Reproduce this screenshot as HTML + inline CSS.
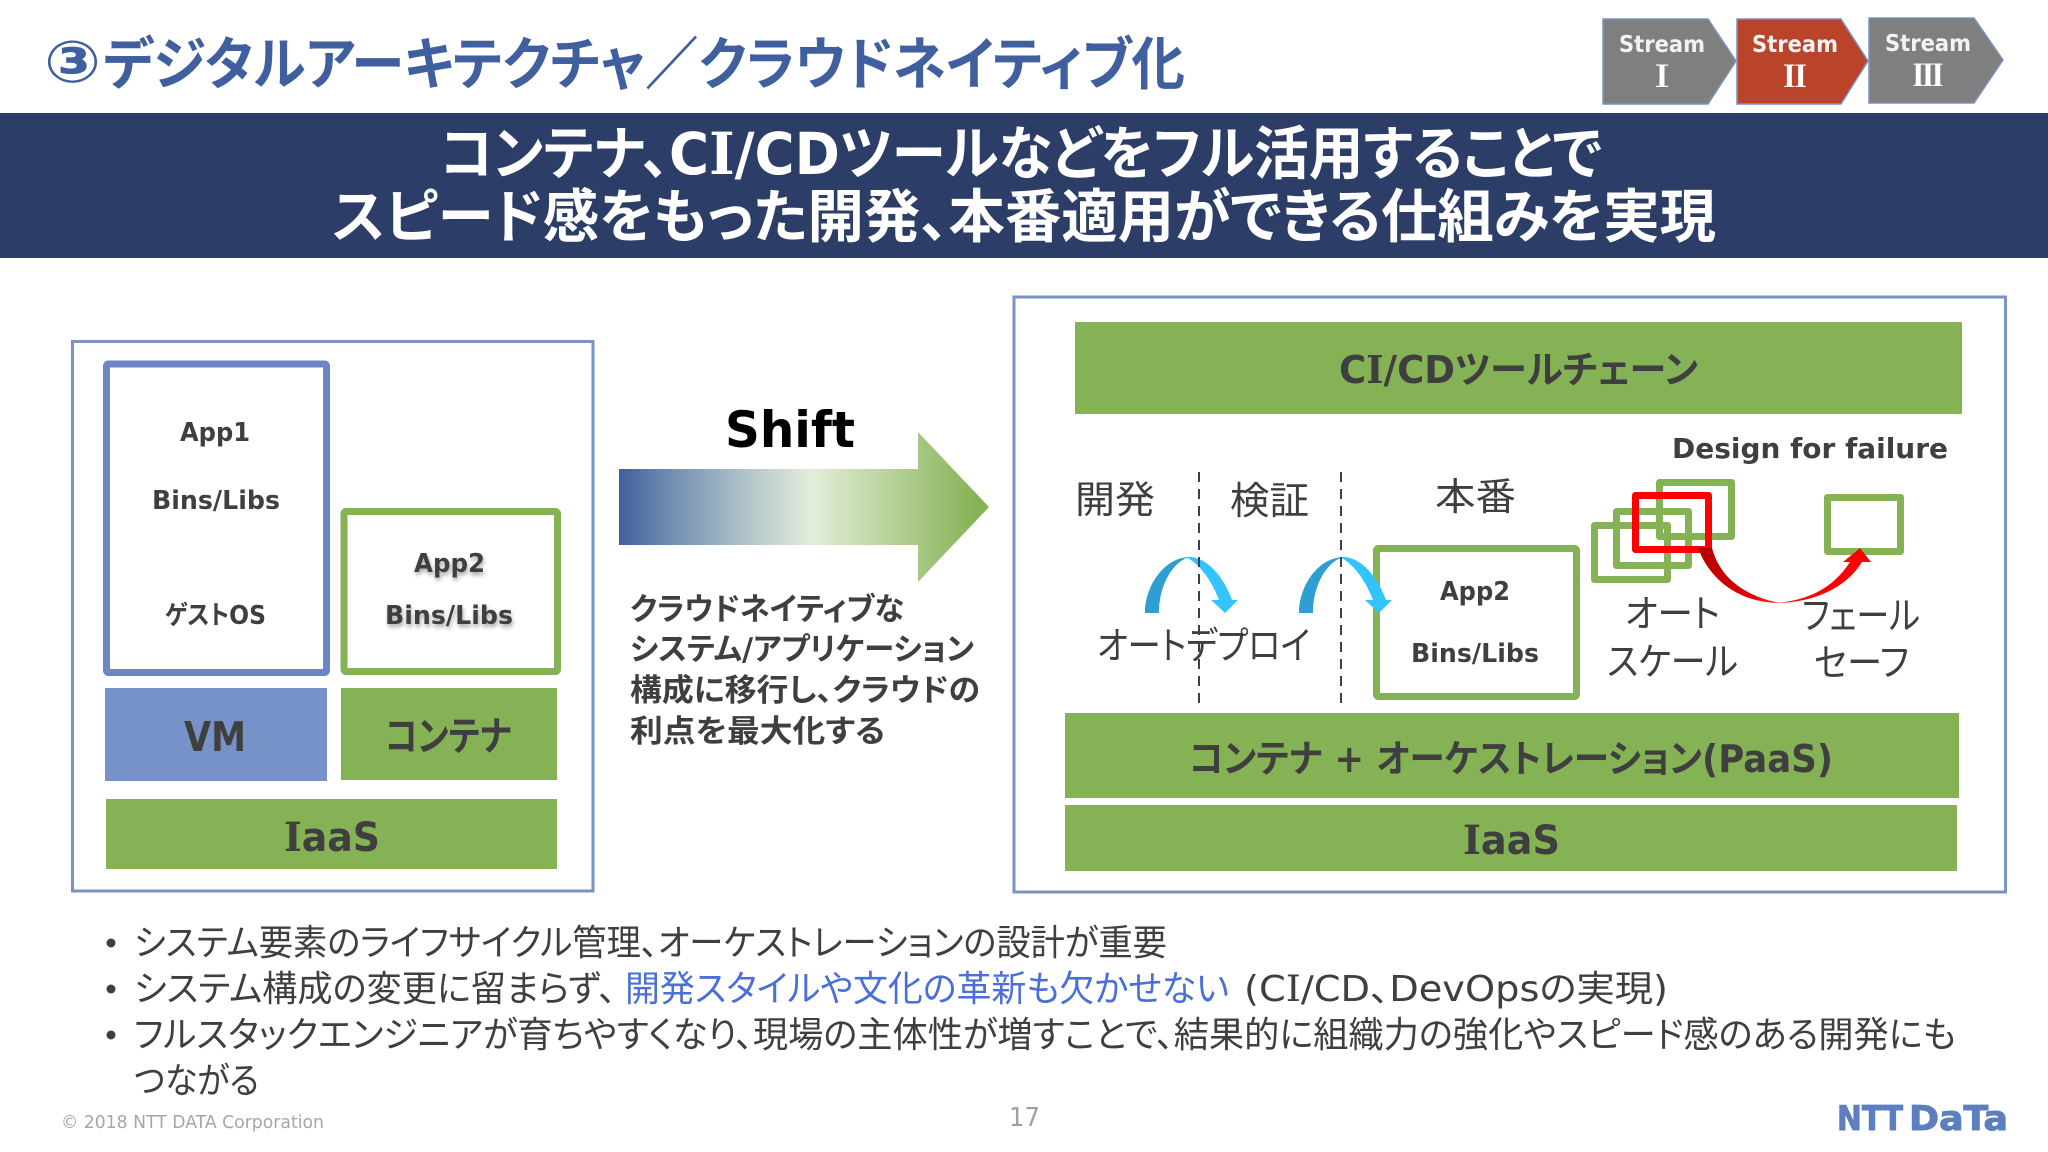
<!DOCTYPE html>
<html lang="ja"><head><meta charset="utf-8"><title>デジタルアーキテクチャ</title>
<style>
html,body{margin:0;padding:0;background:#fff}
svg{display:block}
text{font-family:"DejaVu Sans","Noto Sans CJK JP",sans-serif;fill:#3f3f3f;font-feature-settings:"palt"}
.cjk{font-family:"DejaVu Sans","Noto Sans CJK JP",sans-serif}
.b{font-weight:700}
.t{font-family:"Noto Sans CJK JP",sans-serif;font-weight:400;font-size:38px}
.body{font-family:"DejaVu Sans","Noto Sans CJK JP",sans-serif;font-weight:400;font-size:36px}
.i{font-family:"DejaVu Serif",serif}
.r{font-family:"Noto Serif CJK SC",serif;font-weight:900;fill:#fff}
.sh{filter:drop-shadow(1px 3px 2px rgba(0,0,0,.35))}
</style></head><body>
<svg xmlns="http://www.w3.org/2000/svg" width="2048" height="1152" viewBox="0 0 2048 1152">
<defs>
<linearGradient id="g" x1="0" x2="1" y1="0" y2="0" gradientUnits="objectBoundingBox">
<stop offset="0" stop-color="#3f5f9f"/><stop offset=".12" stop-color="#6a87ae"/><stop offset=".3" stop-color="#a4b9c4"/><stop offset=".52" stop-color="#e3eedb"/><stop offset=".75" stop-color="#b4cf95"/><stop offset=".97" stop-color="#85b255"/><stop offset="1" stop-color="#85b255"/>
</linearGradient>
<linearGradient id="r1" gradientUnits="userSpaceOnUse" x1="1698" y1="548" x2="1780" y2="603"><stop offset="0" stop-color="#b00000"/><stop offset=".7" stop-color="#e00000"/><stop offset="1" stop-color="#ff3030"/></linearGradient>
</defs>
<rect width="2048" height="1152" fill="#fff"/>

<!-- title -->
<text x="44" y="82" font-weight="700" font-size="58" style="fill:#3f5f9e" textLength="57" lengthAdjust="spacingAndGlyphs">③</text>
<text x="103" y="84" class="cjk b" font-size="57" style="fill:#3f5f9e" textLength="1082" lengthAdjust="spacingAndGlyphs">デジタルアーキテクチャ／クラウドネイティブ化</text>

<!-- stream chevrons -->
<g stroke="#7a93c4" stroke-width="1.5">
<polygon points="1603,19 1708,19 1736,61 1708,104 1603,104" fill="#7f7f7f"/>
<polygon points="1737,19 1841,19 1868,61 1841,104 1737,104" fill="#b9442a"/>
<polygon points="1869,18 1974,18 2003,60 1974,103 1869,103" fill="#7f7f7f"/>
</g>
<g class="b" text-anchor="middle" font-size="23" font-weight="700">
<text x="1662" y="52" style="fill:#f2f2f2" textLength="86" lengthAdjust="spacingAndGlyphs">Stream</text>
<text x="1795" y="52" style="fill:#f2f2f2" textLength="86" lengthAdjust="spacingAndGlyphs">Stream</text>
<text x="1928" y="51" style="fill:#f2f2f2" textLength="86" lengthAdjust="spacingAndGlyphs">Stream</text>
</g>
<g text-anchor="middle">
<text x="1662" y="87" font-size="30" class="r">Ⅰ</text>
<text x="1795" y="87" font-size="30" class="r">Ⅱ</text>
<text x="1928" y="86" font-size="30" class="r">Ⅲ</text>
</g>

<!-- header band -->
<rect x="0" y="113" width="2048" height="145" fill="#2c3e68"/>
<text x="440" y="174" class="cjk b" font-size="58" style="fill:#fff" textLength="1162" lengthAdjust="spacingAndGlyphs">コンテナ、C<tspan class="i">I</tspan>/CDツールなどをフル活用することで</text>
<text x="332" y="237" class="cjk b" font-size="58" style="fill:#fff" textLength="1384" lengthAdjust="spacingAndGlyphs">スピード感をもった開発、本番適用ができる仕組みを実現</text>

<!-- left frame -->
<rect x="72.5" y="341.5" width="520.5" height="549.5" fill="#fff" stroke="#7a93c4" stroke-width="3"/>
<rect x="106.5" y="364" width="220" height="308.5" rx="2" fill="#fff" stroke="#6a86c4" stroke-width="7"/>
<rect x="344" y="511.5" width="213.5" height="160" rx="2" fill="#fff" stroke="#85b255" stroke-width="7"/>
<rect x="105" y="688" width="222" height="93" fill="#7692c8"/>
<rect x="341" y="688" width="216" height="92" fill="#85b255"/>
<rect x="106" y="799" width="451" height="70" fill="#85b255"/>
<g class="b" font-weight="700" font-size="26">
<text x="180" y="441" textLength="70" lengthAdjust="spacingAndGlyphs">App1</text>
<text x="152" y="509" textLength="128" lengthAdjust="spacingAndGlyphs">Bins/Libs</text>
<text x="165" y="624" textLength="101" lengthAdjust="spacingAndGlyphs">ゲストOS</text>
<g class="sh">
<text x="414" y="572" textLength="71" lengthAdjust="spacingAndGlyphs">App2</text>
<text x="385" y="624" textLength="128" lengthAdjust="spacingAndGlyphs">Bins/Libs</text>
</g>
</g>
<text x="184" y="751" font-weight="700" font-size="41" textLength="62" lengthAdjust="spacingAndGlyphs">VM</text>
<text x="385" y="750" class="cjk b" font-size="40" textLength="126" lengthAdjust="spacingAndGlyphs">コンテナ</text>
<text x="284" y="851" font-weight="700" font-size="40" textLength="96" lengthAdjust="spacingAndGlyphs"><tspan class="i">I</tspan>aaS</text>

<!-- shift -->
<polygon points="619,469 918,469 918,432 989,507 918,582 918,545 619,545" fill="url(#g)"/>
<text x="725" y="447" font-weight="700" font-size="50" style="fill:#000" textLength="130" lengthAdjust="spacingAndGlyphs">Shift</text>
<g class="cjk b" font-size="31">
<text class="cjk b" x="630" y="620" textLength="274" lengthAdjust="spacingAndGlyphs">クラウドネイティブな</text>
<text class="cjk b" x="630" y="660" textLength="344" lengthAdjust="spacingAndGlyphs">システム/アプリケーション</text>
<text class="cjk b" x="630" y="701" textLength="350" lengthAdjust="spacingAndGlyphs">構成に移行し、クラウドの</text>
<text class="cjk b" x="630" y="742" textLength="255" lengthAdjust="spacingAndGlyphs">利点を最大化する</text>
</g>

<!-- right frame -->
<rect x="1014" y="297" width="991.5" height="595" fill="#fff" stroke="#7a93c4" stroke-width="3"/>
<rect x="1075" y="322" width="887" height="92" fill="#85b255"/>
<rect x="1065" y="713" width="894" height="85" fill="#85b255"/>
<rect x="1065" y="805" width="892" height="66" fill="#85b255"/>
<text x="1339" y="383" class="cjk b" font-size="38" textLength="359" lengthAdjust="spacingAndGlyphs">C<tspan class="i">I</tspan>/CDツールチェーン</text>
<text x="1189" y="772" class="cjk b" font-size="38" textLength="644" lengthAdjust="spacingAndGlyphs">コンテナ + オーケストレーション(PaaS)</text>
<text x="1463" y="854" font-weight="700" font-size="40" textLength="97" lengthAdjust="spacingAndGlyphs"><tspan class="i">I</tspan>aaS</text>

<text x="1672" y="458" font-weight="700" font-size="28" textLength="276" lengthAdjust="spacingAndGlyphs">Design for failure</text>

<text class="t" x="1075" y="513" textLength="80" lengthAdjust="spacingAndGlyphs">開発</text>
<text class="t" x="1230" y="514" textLength="79" lengthAdjust="spacingAndGlyphs">検証</text>
<text class="t" x="1435" y="510" textLength="81" lengthAdjust="spacingAndGlyphs">本番</text>

<!-- App2 prod -->
<rect x="1376.5" y="548.5" width="200" height="148" rx="2" fill="#fff" stroke="#85b255" stroke-width="7"/>
<text x="1440" y="600" font-weight="700" font-size="26" textLength="70" lengthAdjust="spacingAndGlyphs">App2</text>
<text x="1411" y="662" font-weight="700" font-size="26" textLength="128" lengthAdjust="spacingAndGlyphs">Bins/Libs</text>

<!-- curved deploy arrows -->
<g>
<path d="M1145 613C1145 585 1165 557 1190 557C1173 561 1159 585 1159 613Z" fill="#2e9fd3"/>
<path d="M1186 557C1205 555 1223 575 1232 600L1238 600L1225 613L1211 600L1219 600C1212 582 1201 565 1186 557Z" fill="#33c4ff"/>
</g>
<g transform="translate(154,0)">
<path d="M1145 613C1145 585 1165 557 1190 557C1173 561 1159 585 1159 613Z" fill="#2e9fd3"/>
<path d="M1186 557C1205 555 1223 575 1232 600L1238 600L1225 613L1211 600L1219 600C1212 582 1201 565 1186 557Z" fill="#33c4ff"/>
</g>
<g stroke="#404040" stroke-width="2" stroke-dasharray="10 7">
<line x1="1199" y1="472" x2="1199" y2="703"/>
<line x1="1341" y1="472" x2="1341" y2="703"/>
</g>
<text class="t" x="1097" y="659" textLength="213" lengthAdjust="spacingAndGlyphs">オートデプロイ</text>

<!-- autoscale boxes -->
<g fill="none" stroke-width="7" stroke-linejoin="round">
<rect x="1594.5" y="525.5" width="73" height="54" stroke="#85b255"/>
<rect x="1616.5" y="511.5" width="72" height="54" stroke="#85b255"/>
<rect x="1659.5" y="482.5" width="72" height="54" stroke="#85b255"/>
<rect x="1635.5" y="495.5" width="73" height="54" stroke="#ff0000"/>
<rect x="1827.5" y="497.5" width="73" height="54" stroke="#85b255"/>
</g>
<path d="M1698 548C1712 585 1745 603 1780 603C1755 598 1722 585 1712 548Z" fill="url(#r1)"/>
<path d="M1775 603C1805 601 1832 590 1850 562L1843 562L1860 548L1871 562L1862 562C1845 590 1810 603 1775 603Z" fill="#ff0000"/>

<text class="t" x="1625" y="627" textLength="95" lengthAdjust="spacingAndGlyphs">オート</text>
<text class="t" x="1607" y="675" textLength="131" lengthAdjust="spacingAndGlyphs">スケール</text>
<text class="t" x="1802" y="629" textLength="118" lengthAdjust="spacingAndGlyphs">フェール</text>
<text class="t" x="1814" y="676" textLength="95" lengthAdjust="spacingAndGlyphs">セーフ</text>

<!-- bullets -->
<circle cx="111" cy="943" r="4.5" fill="#3f3f3f"/>
<circle cx="111" cy="989" r="4.5" fill="#3f3f3f"/>
<circle cx="111" cy="1035" r="4.5" fill="#3f3f3f"/>
<text class="body" x="134" y="955" textLength="1033" lengthAdjust="spacingAndGlyphs">システム要素のライフサイクル管理、オーケストレーションの設計が重要</text>
<text class="body" x="134" y="1001" textLength="482" lengthAdjust="spacingAndGlyphs">システム構成の変更に留まらず、</text>
<text class="body" x="625" y="1001" style="fill:#4a6fd6" textLength="604" lengthAdjust="spacingAndGlyphs">開発スタイルや文化の革新も欠かせない</text>
<text class="body" x="1244" y="1001" textLength="424" lengthAdjust="spacingAndGlyphs">(C<tspan class="i">I</tspan>/CD、DevOpsの実現)</text>
<text class="body" x="134" y="1047" textLength="1822" lengthAdjust="spacingAndGlyphs">フルスタックエンジニアが育ちやすくなり、現場の主体性が増すことで、結果的に組織力の強化やスピード感のある開発にも</text>
<text class="body" x="134" y="1093" textLength="125" lengthAdjust="spacingAndGlyphs">つながる</text>

<!-- footer -->
<text x="61" y="1128" font-size="18" style="fill:#a6a6a6" textLength="263" lengthAdjust="spacingAndGlyphs">© 2018 NTT DATA Corporation</text>
<text x="1009" y="1126" font-size="26" style="fill:#a0a0a0" textLength="31" lengthAdjust="spacingAndGlyphs">17</text>
<text x="1837" y="1130" font-weight="700" font-size="34" style="fill:#5d7fbf;stroke:#5d7fbf;stroke-width:1" textLength="66" lengthAdjust="spacingAndGlyphs">NTT</text>
<text x="1909" y="1130" font-weight="700" font-size="34" style="fill:#5d7fbf;stroke:#5d7fbf;stroke-width:1" textLength="99" lengthAdjust="spacingAndGlyphs">DaTa</text>
</svg>
</body></html>
